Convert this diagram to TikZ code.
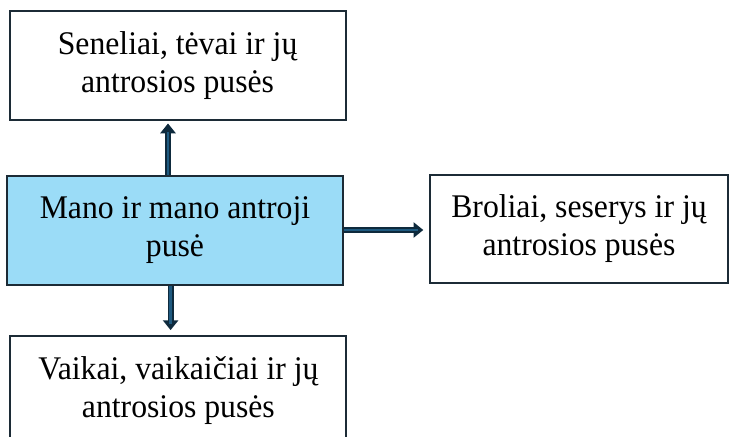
\documentclass[tikz,border=0pt]{standalone}
\usepackage{fontspec}
\setmainfont{Liberation Serif}[FakeStretch=0.96]
\usepackage{tikz}
\usetikzlibrary{arrows.meta}

\definecolor{boxLine}{HTML}{1C2B36}
\definecolor{selfFill}{HTML}{9BDCF7}
\definecolor{linkOuter}{HTML}{0E2A3D}
\definecolor{linkInner}{HTML}{1F5A80}

\begin{document}
\begin{tikzpicture}[box/.style={rectangle, draw=boxLine, line width=1.5pt, fill=white, align=center, minimum width=8.4cm, minimum height=2.72cm, inner sep=0},
  link/.style={-{Triangle[width=10.7pt,length=7pt]}, draw=linkOuter, line width=4.3pt, postaction={draw=linkInner, line width=1.8pt, -, shorten >=7.6pt}},
  node font=\fontsize{23.5pt}{27pt}\selectfont]

  \useasboundingbox (0,0) rectangle (18.225,10.9);

  \node[box]                (boxElders)   at (4.44,9.26)  {Seneliai, tėvai ir jų\\antrosios pusės};
  \node[box, fill=selfFill] (boxSelf)     at (4.375,5.14) {Mano ir mano antroji\\pusė};
  \node[box, minimum width=7.45cm] (boxSiblings) at (14.475,5.175) {Broliai, seserys ir jų\\antrosios pusės};
  \node[box]                (boxChildren) at (4.46,1.14)  {Vaikai, vaikaičiai ir jų\\antrosios pusės};

  \draw [link, shorten >=0.6mm] ([xshift=-1.75mm]boxSelf.north) -- ([xshift=-1.75mm]boxSelf.north |- boxElders.south);
  \draw [link, shorten >=1.2mm] ([xshift=-1.1mm]boxSelf.south) -- ([xshift=-1.1mm]boxSelf.south |- boxChildren.north);
  \draw [link, shorten >=1.4mm] (boxSelf.east |- 0,5.15) -- (boxSiblings.west |- 0,5.15);
\end{tikzpicture}
\end{document}
